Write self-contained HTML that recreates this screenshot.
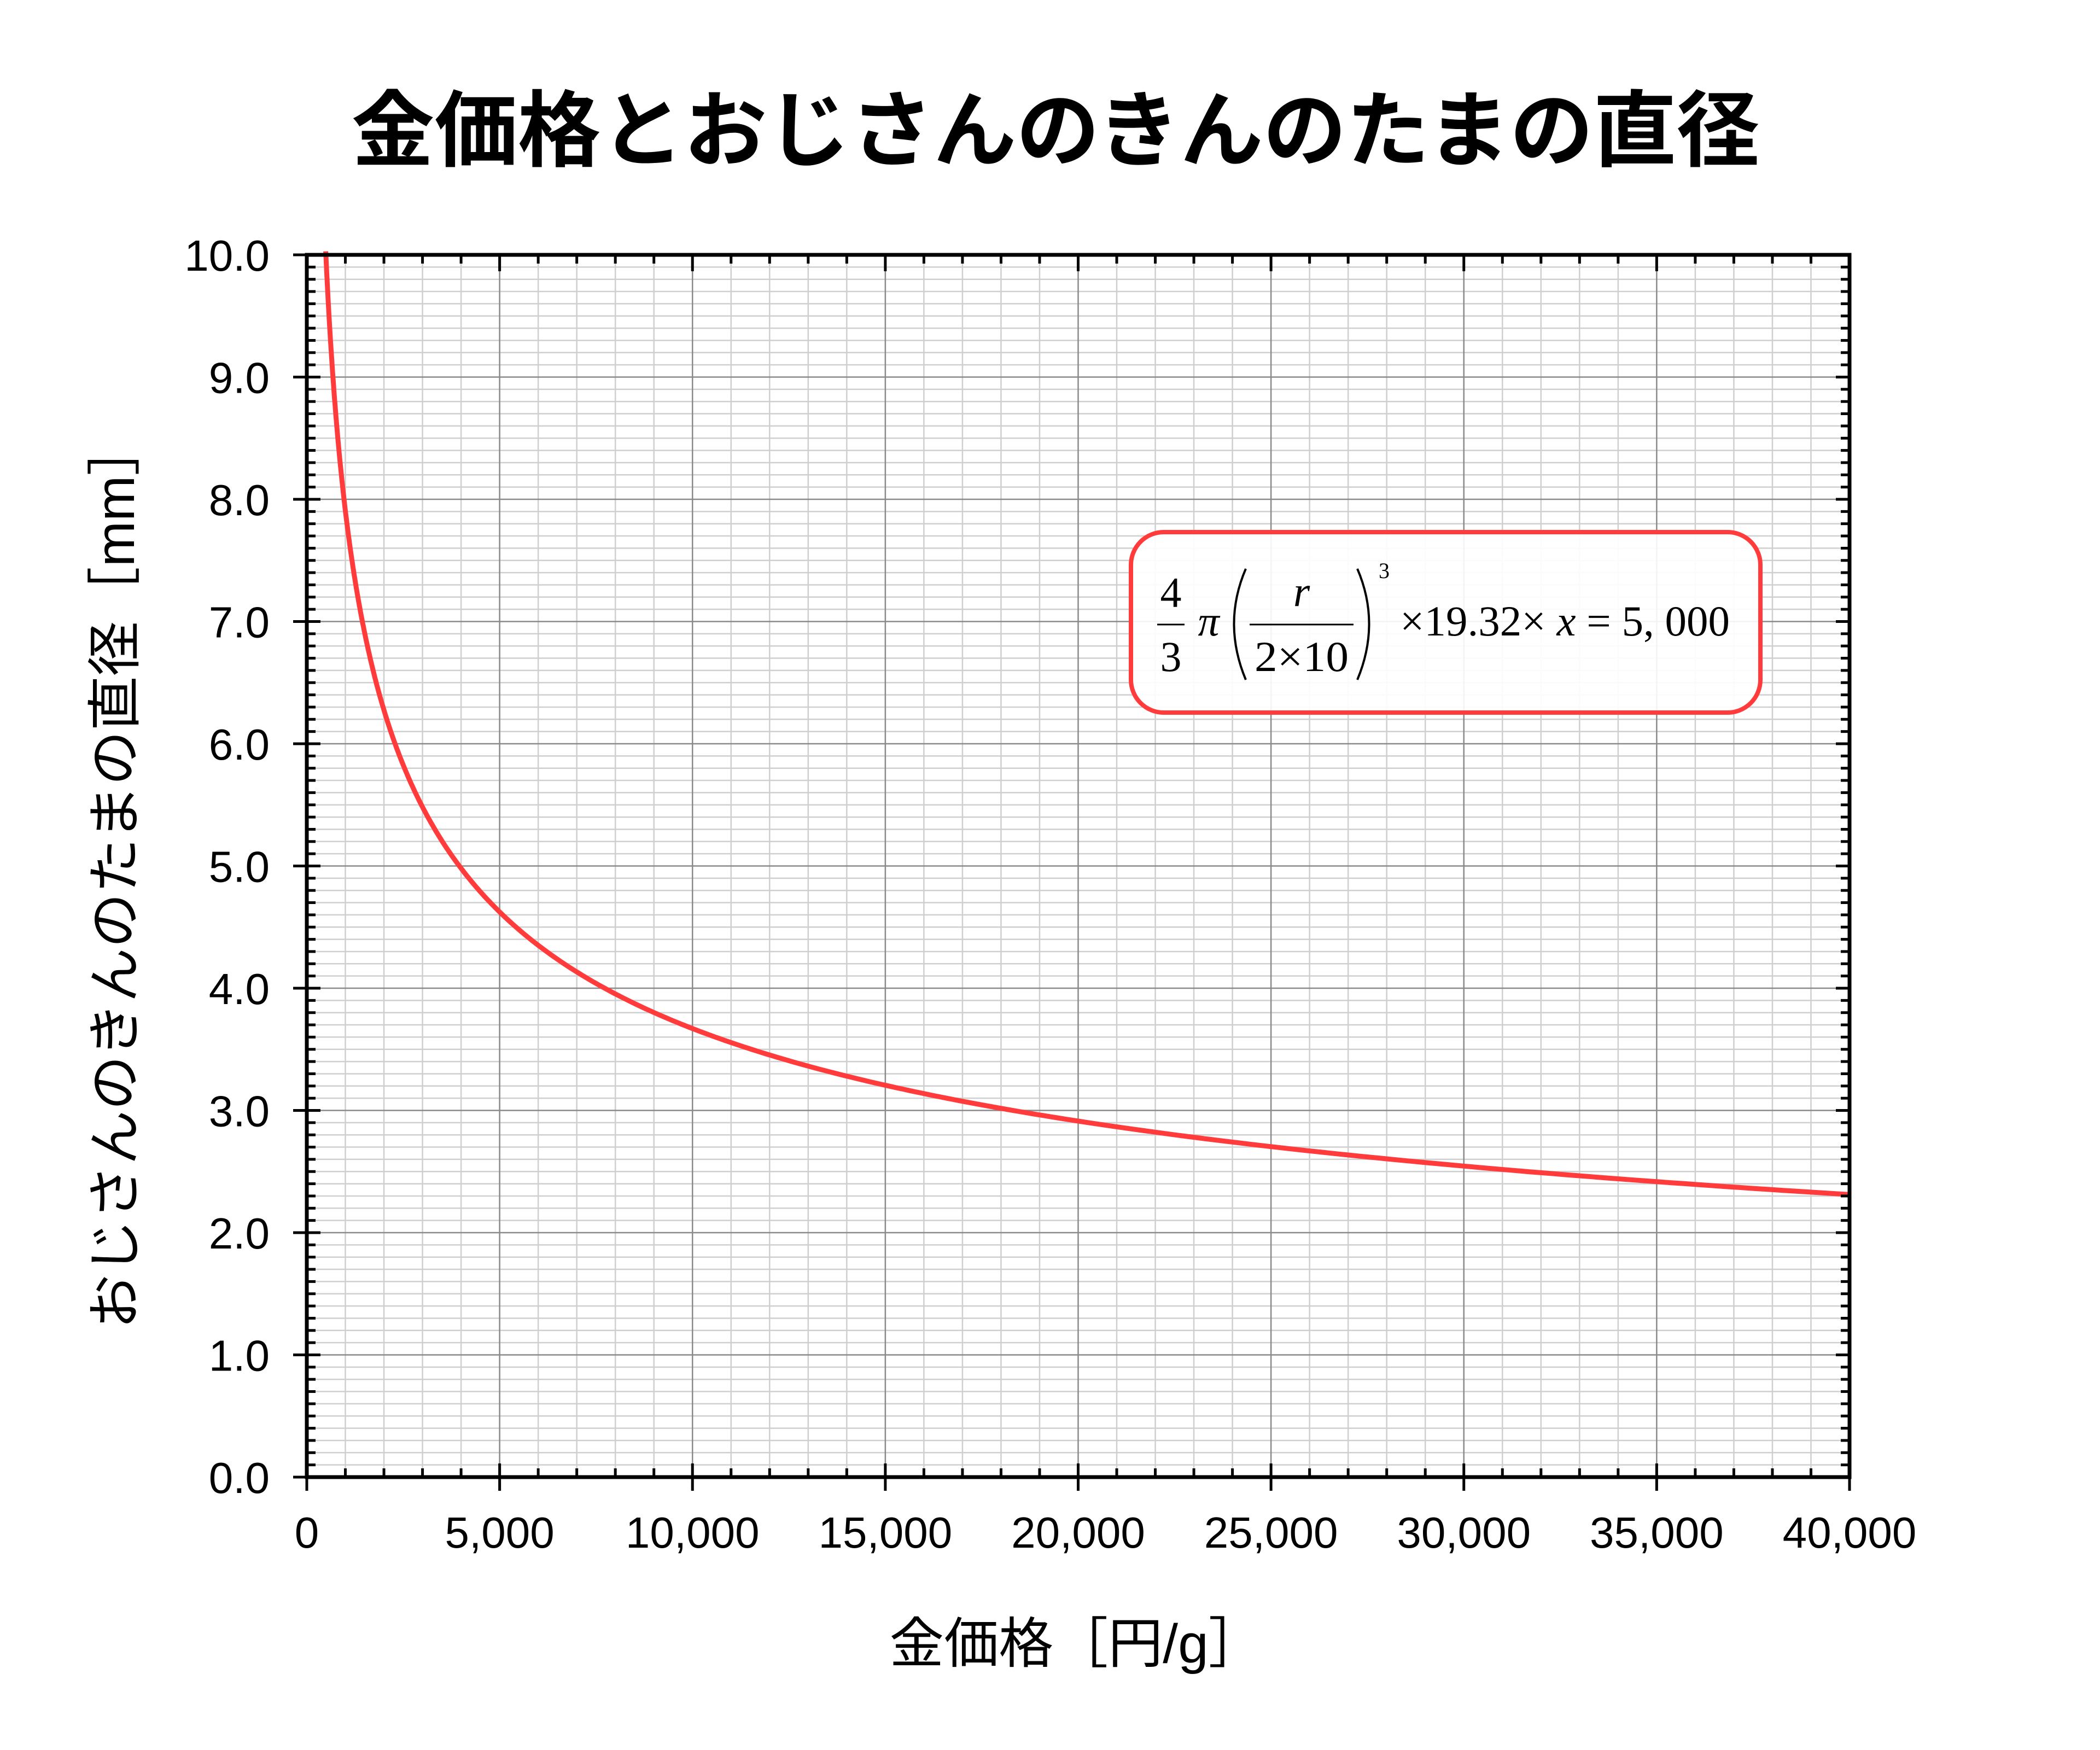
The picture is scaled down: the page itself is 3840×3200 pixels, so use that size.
<!DOCTYPE html>
<html><head><meta charset="utf-8"><style>
html,body{margin:0;padding:0;background:#fff;}
svg{display:block;}
</style></head><body>
<svg id="s" xmlns="http://www.w3.org/2000/svg" width="3840" height="3200" viewBox="0 0 3840 3200">
<rect width="3840" height="3200" fill="#fff"/>
<g id="grid"></g>
<g id="curve"></g>
<rect x="2068" y="973" width="1151" height="330" rx="60" ry="60" fill="#fff" fill-opacity="0.9" stroke="#ff3b3b" stroke-width="8"/>
<g font-family="'Liberation Serif', serif" fill="#000">
<text x="2141" y="1110" font-size="78" text-anchor="middle">4</text>
<line x1="2116" y1="1142" x2="2166" y2="1142" stroke="#000" stroke-width="3"/>
<text x="2141" y="1227" font-size="78" text-anchor="middle">3</text>
<text x="2210" y="1162" font-size="78" font-style="italic" text-anchor="middle">π</text>
<path d="M2278,1040 Q2235,1140 2278,1243" fill="none" stroke="#000" stroke-width="4"/>
<text x="2380" y="1108" font-size="78" font-style="italic" text-anchor="middle">r</text>
<line x1="2285" y1="1142" x2="2475" y2="1142" stroke="#000" stroke-width="3"/>
<text x="2380" y="1227" font-size="78" text-anchor="middle" textLength="172" lengthAdjust="spacingAndGlyphs">2×10</text>
<path d="M2482,1040 Q2525,1140 2482,1243" fill="none" stroke="#000" stroke-width="4"/>
<text x="2521" y="1057" font-size="40">3</text>
<text x="2560" y="1162" font-size="78" textLength="603" lengthAdjust="spacingAndGlyphs">×19.32× <tspan font-style="italic">x</tspan> = 5, 000</text>
</g>
<g id="axes"></g>
<text x="1930" y="292" font-family="'Liberation Sans','Noto Sans CJK JP',sans-serif" font-weight="bold" font-size="152" text-anchor="middle">金価格とおじさんのきんのたまの直径</text>
<text x="1968" y="3040" font-family="'Liberation Sans','Noto Sans CJK JP',sans-serif" font-size="100" text-anchor="middle">金価格［円/g］</text>
<text transform="translate(245,1600) rotate(-90)" font-family="'Liberation Sans','Noto Sans CJK JP',sans-serif" font-size="100" text-anchor="middle">おじさんのきんのたまの直径［mm］</text>
</svg>
<script>
var L=561,R=3382,T=466,B=2701,W=R-L,H=B-T,NS="http://www.w3.org/2000/svg";
function X(v){return L+v/40000*W;} function Y(v){return B-v/10*H;}
function el(p,n,a,t){var e=document.createElementNS(NS,n);for(var k in a)e.setAttribute(k,a[k]);if(t!==undefined)e.textContent=t;p.appendChild(e);return e;}
var g=document.getElementById('grid'),ax=document.getElementById('axes');
for(var i=1;i<40;i++){if(i%5)el(g,'line',{x1:X(i*1000),x2:X(i*1000),y1:T,y2:B,stroke:'#cfcfcf','stroke-width':2.5});}
for(var i=1;i<100;i++){if(i%10)el(g,'line',{x1:L,x2:R,y1:Y(i/10),y2:Y(i/10),stroke:'#cfcfcf','stroke-width':2.5});}
for(var i=1;i<8;i++)el(g,'line',{x1:X(i*5000),x2:X(i*5000),y1:T,y2:B,stroke:'#8a8a8a','stroke-width':2.5});
for(var i=1;i<10;i++)el(g,'line',{x1:L,x2:R,y1:Y(i),y2:Y(i),stroke:'#8a8a8a','stroke-width':2.5});
var d='';for(var x=490;x<=40000;x*=1.01){var r=20*Math.cbrt(5000*3/(4*Math.PI*19.32*x));d+=(d?'L':'M')+X(x).toFixed(1)+','+Y(Math.min(r,10.05)).toFixed(1);}
var r=20*Math.cbrt(5000*3/(4*Math.PI*19.32*40000));d+='L'+R+','+Y(r);
el(document.getElementById('curve'),'path',{d:d,fill:'none',stroke:'#ff3b3b','stroke-width':9});
el(ax,'rect',{x:L,y:T,width:W,height:H,fill:'none',stroke:'#000','stroke-width':7});
for(var i=0;i<=40;i++){var x=X(i*1000);if(i%5){el(ax,'line',{x1:x,x2:x,y1:B,y2:B-16,stroke:'#000','stroke-width':5});el(ax,'line',{x1:x,x2:x,y1:T,y2:T+16,stroke:'#000','stroke-width':5});}else{el(ax,'line',{x1:x,x2:x,y1:B-25,y2:B+25,stroke:'#000','stroke-width':5});el(ax,'line',{x1:x,x2:x,y1:T-0,y2:T+30,stroke:'#000','stroke-width':5});
el(ax,'text',{x:x,y:2830,'font-family':"'Liberation Sans',sans-serif",'font-size':80,'text-anchor':'middle'},i==0?'0':(i*1000).toLocaleString('en-US'));}}
for(var i=0;i<=100;i++){var y=Y(i/10);if(i%10){el(ax,'line',{x1:L,x2:L+16,y1:y,y2:y,stroke:'#000','stroke-width':5});el(ax,'line',{x1:R,x2:R-16,y1:y,y2:y,stroke:'#000','stroke-width':5});}else{el(ax,'line',{x1:L-25,x2:L+25,y1:y,y2:y,stroke:'#000','stroke-width':5});el(ax,'line',{x1:R-25,x2:R+0,y1:y,y2:y,stroke:'#000','stroke-width':5});
el(ax,'text',{x:493,y:y+29,'font-family':"'Liberation Sans',sans-serif",'font-size':80,'text-anchor':'end'},(i/10).toFixed(1));}}
</script>
</body></html>
